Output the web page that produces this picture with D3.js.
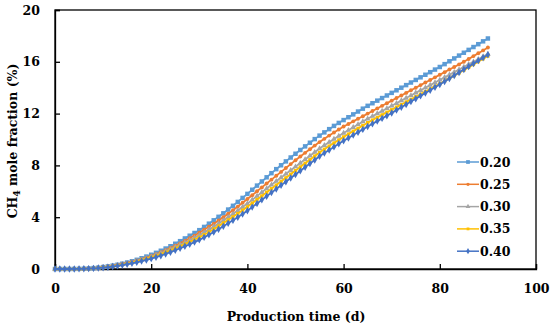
<!DOCTYPE html>
<html>
<head>
<meta charset="utf-8">
<script src="https://cdn.jsdelivr.net/npm/d3@7"></script>
<style>
  html, body { margin: 0; padding: 0; background: #fff; }
  svg { display: block; }
  text { font-family: "DejaVu Serif", serif; font-weight: bold; fill: #000; }
</style>
</head>
<body>
<svg id="chart" width="550" height="326"></svg>
<script>
// ---- data ----
const days = d3.range(0, 91); // production time (d), one point per day
const seriesNames = ["0.20", "0.25", "0.30", "0.35", "0.40"];
const colors = ["#5B9BD5", "#ED7D31", "#A5A5A5", "#FFC000", "#4472C4"];
const xTicks = [0, 20, 40, 60, 80, 100];
const yTicks = [0, 4, 8, 12, 16, 20];

const s020 = [0,0,0,0,0.005,0.01, 0.02,0.04,0.07,0.1,0.15, 0.2,0.26,0.33,0.41,0.5, 0.6,0.71,0.83,0.96,1.1,
  1.25,1.41,1.58,1.76,1.95, 2.15,2.36,2.57,2.78,3.0, 3.25,3.5,3.76,4.03,4.3, 4.59,4.88,5.18,5.49,5.8,
  6.12,6.44,6.76,7.08,7.4, 7.71,8.01,8.31,8.61,8.9, 9.19,9.47,9.75,10.03,10.3, 10.55,10.8,11.05,11.28,11.5,
  11.72,11.94,12.16,12.38,12.6, 12.8,13.0,13.2,13.4,13.6, 13.8,14.0,14.2,14.4,14.6, 14.8,15.0,15.2,15.4,15.6,
  15.82,16.04,16.26,16.48,16.7, 16.92,17.14,17.36,17.58,17.8];
const s025 = [0,0,0,0,0.005,0.01, 0.02,0.04,0.06,0.1,0.14, 0.19,0.25,0.31,0.39,0.47, 0.56,0.66,0.76,0.88,1.0,
  1.14,1.29,1.45,1.62,1.8, 1.98,2.17,2.37,2.58,2.8, 3.03,3.26,3.5,3.75,4.0, 4.27,4.54,4.82,5.11,5.4,
  5.7,6.0,6.3,6.6,6.9, 7.2,7.5,7.8,8.1,8.4, 8.69,8.97,9.25,9.53,9.8, 10.05,10.3,10.54,10.77,11.0,
  11.2,11.4,11.6,11.8,12.0, 12.2,12.4,12.6,12.8,13.0, 13.2,13.4,13.6,13.8,14.0, 14.2,14.4,14.6,14.8,15.0,
  15.2,15.4,15.6,15.8,16.0, 16.22,16.44,16.66,16.88,17.1];
const s030 = [0,0,0,0,0.005,0.01, 0.02,0.03,0.06,0.09,0.13, 0.18,0.23,0.29,0.36,0.44, 0.53,0.62,0.72,0.83,0.95,
  1.08,1.22,1.37,1.53,1.7, 1.87,2.04,2.22,2.41,2.6, 2.82,3.04,3.27,3.51,3.75, 4.0,4.25,4.51,4.78,5.05,
  5.34,5.63,5.92,6.21,6.5, 6.78,7.06,7.34,7.62,7.9, 8.18,8.46,8.74,9.02,9.3, 9.55,9.79,10.03,10.27,10.5,
  10.72,10.94,11.16,11.38,11.6, 11.8,12.0,12.2,12.4,12.6, 12.8,13.0,13.2,13.4,13.6, 13.8,14.0,14.2,14.4,14.6,
  14.8,15.0,15.2,15.4,15.6, 15.8,16.0,16.2,16.4,16.6];
const s035 = [0,0,0,0,0.005,0.01, 0.02,0.03,0.05,0.08,0.12, 0.16,0.21,0.27,0.34,0.41, 0.49,0.58,0.68,0.79,0.9,
  1.02,1.15,1.29,1.44,1.6, 1.76,1.92,2.09,2.27,2.45, 2.65,2.86,3.08,3.31,3.55, 3.79,4.03,4.28,4.54,4.8,
  5.08,5.36,5.64,5.92,6.2, 6.48,6.76,7.04,7.32,7.6, 7.88,8.16,8.44,8.72,9.0, 9.25,9.49,9.73,9.97,10.2,
  10.42,10.64,10.86,11.08,11.3, 11.5,11.7,11.9,12.1,12.3, 12.5,12.7,12.9,13.1,13.3, 13.5,13.7,13.9,14.1,14.3,
  14.51,14.72,14.93,15.14,15.35, 15.57,15.79,16.01,16.23,16.45];
const s040 = [0,0,0,0,0.005,0.01, 0.02,0.03,0.05,0.07,0.1, 0.14,0.19,0.24,0.3,0.37, 0.44,0.52,0.61,0.7,0.8,
  0.91,1.03,1.16,1.3,1.45, 1.6,1.75,1.91,2.08,2.25, 2.44,2.64,2.85,3.07,3.3, 3.53,3.76,4.0,4.25,4.5,
  4.78,5.06,5.34,5.62,5.9, 6.18,6.46,6.74,7.02,7.3, 7.58,7.86,8.14,8.42,8.7, 8.95,9.19,9.43,9.67,9.9,
  10.12,10.34,10.56,10.78,11.0, 11.21,11.42,11.63,11.84,12.05, 12.27,12.49,12.71,12.93,13.15, 13.37,13.59,13.81,14.03,14.25,
  14.48,14.71,14.94,15.17,15.4, 15.63,15.86,16.09,16.32,16.55];
const seriesValues = [s020, s025, s030, s035, s040];

// ---- chart ----
const svg = d3.select("#chart");
const L = 55, R = 536, T = 10, B = 269;
const x = d3.scaleLinear().domain([0, 100]).range([L, R]);
const y = d3.scaleLinear().domain([0, 20]).range([B, T]);

const symbols = [d3.symbolSquare, d3.symbolCircle, d3.symbolTriangle, d3.symbolSquare, d3.symbolDiamond];
const symSizes = [20, 12, 14, 11, 16];
const fontSize = "12.5px";

// plot frame
svg.append("rect").attr("x", L).attr("y", T).attr("width", R - L).attr("height", B - T)
  .attr("fill", "none").attr("stroke", "#000").attr("stroke-width", 1.3);

// axes
const xAxis = svg.append("g").attr("transform", `translate(0,${B})`)
  .call(d3.axisBottom(x).tickValues(xTicks).tickSize(-5).tickPadding(15).tickFormat(d3.format("d")));
const yAxis = svg.append("g").attr("transform", `translate(${L},0)`)
  .call(d3.axisLeft(y).tickValues(yTicks).tickSize(-5).tickPadding(15).tickFormat(d3.format("d")));
[xAxis, yAxis].forEach(g => {
  g.select(".domain").attr("stroke", "#000").attr("stroke-width", 1.3);
  g.selectAll(".tick line").attr("stroke", "#000").attr("stroke-width", 1.3);
  g.selectAll(".tick text").style("font-size", fontSize).style("font-family", "DejaVu Serif").style("font-weight", "bold");
});

// series
const line = d3.line().x((d, i) => x(days[i])).y(d => y(d));
seriesValues.forEach((vals, k) => {
  const g = svg.append("g");
  g.append("path").datum(vals).attr("d", line).attr("fill", "none")
    .attr("stroke", colors[k]).attr("stroke-width", 1.8);
  g.selectAll("path.m").data(vals).join("path").attr("class", "m")
    .attr("transform", (d, i) => `translate(${x(days[i])},${y(d)})`)
    .attr("d", d3.symbol().type(symbols[k]).size(symSizes[k]))
    .attr("fill", colors[k]);
});

// legend
const lg = svg.append("g");
seriesNames.forEach((name, k) => {
  const yy = 162 + k * 22.3;
  lg.append("line").attr("x1", 457).attr("x2", 479).attr("y1", yy).attr("y2", yy)
    .attr("stroke", colors[k]).attr("stroke-width", 1.5);
  lg.append("path").attr("transform", `translate(468,${yy})`)
    .attr("d", d3.symbol().type(symbols[k]).size(symSizes[k] * 0.7)).attr("fill", colors[k]);
  lg.append("text").attr("x", 480).attr("y", yy).attr("dy", "0.36em")
    .style("font-size", fontSize).text(name);
});

// axis titles
svg.append("text").attr("x", 296).attr("y", 321).attr("text-anchor", "middle")
  .style("font-size", fontSize).text("Production time (d)");
const yt = svg.append("text").attr("transform", "translate(17,141) rotate(-90)")
  .attr("text-anchor", "middle").style("font-size", fontSize);
yt.append("tspan").text("CH");
yt.append("tspan").attr("dy", 3).style("font-size", "9px").text("4");
yt.append("tspan").attr("dy", -3).text(" mole fraction (%)");
</script>
</body>
</html>
